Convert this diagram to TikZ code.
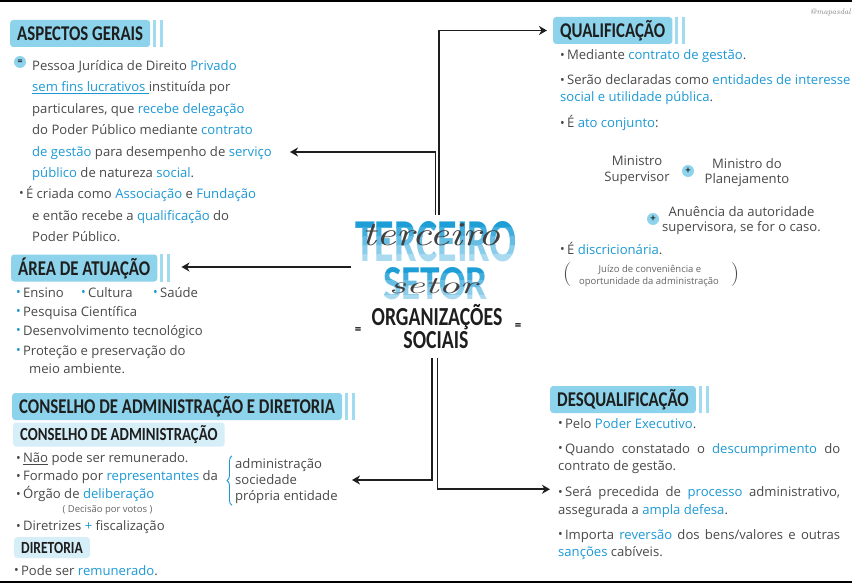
\documentclass[tikz,border=0pt]{standalone}
\usepackage{fontspec}
\newfontfamily\corpo{Open Sans}
\newfontfamily\cabfont{Carlito}
\usetikzlibrary{arrows.meta,decorations.pathreplacing}

\definecolor{tinta}{RGB}{72,72,72}
\definecolor{titulo}{RGB}{30,30,30}
\definecolor{azul}{RGB}{28,152,212}
\definecolor{caixa}{RGB}{140,211,235}
\definecolor{barra}{RGB}{160,219,240}
\definecolor{caixaclara}{RGB}{214,238,247}
\definecolor{setor}{RGB}{30,158,214}

\newcommand\dest[1]{\textcolor{azul}{#1}}
\newcommand\bul{\raisebox{.1ex}{\scalebox{.95}{\textbullet}}\,}
\newcommand\bbul{\textcolor{azul}{\bul}}
\newcommand\hd[1]{\scalebox{0.80}[1]{#1}}

\tikzset{
  txt/.style={anchor=base west,inner sep=0pt,text=tinta,
    font=\corpo\fontsize{13.1}{15}\selectfont},
  miudo/.style={txt,text=tinta!85,font=\corpo\fontsize{9.5}{11}\selectfont},
  cab/.style={anchor=west,fill=caixa,rounded corners=3pt,minimum height=27pt,
    inner xsep=7pt,inner ysep=0pt,text=titulo,
    font=\cabfont\bfseries\fontsize{21}{21}\selectfont},
  subcab/.style={cab,fill=caixaclara,minimum height=24pt,
    font=\cabfont\bfseries\fontsize{18.5}{18.5}\selectfont},
  barras/.style={draw=barra,line width=3pt},
  liga/.style={draw=titulo,line width=1.6pt,
    -{Stealth[length=8pt,width=9pt,inset=2.5pt]}},
  selo/.style={circle,fill=caixa,inner sep=0pt,minimum size=12pt,text=titulo,
    font=\cabfont\bfseries\fontsize{10}{10}\selectfont},
  letreiro/.style={inner sep=0pt,font=\cabfont\bfseries},
  cursiva/.style={inner sep=0pt,text=black!75,font=\rmfamily\itshape},
}

\begin{document}
\begin{tikzpicture}[x=1pt,y=-1pt]
  \useasboundingbox (0,0) rectangle (852,583);
  \clip (0,0) rectangle (852,583);
  \fill[black] (0,0) rectangle (852,2.5);
  \fill[black] (0,580.5) rectangle (852,583);
  \node[anchor=east,inner sep=0pt,text=gray,font=\rmfamily\itshape\fontsize{8}{8}\selectfont] (marca) at (851,12) {@mapasdal};

  % centro
  \foreach \i/\p in {0/100,1/85,2/68,3/52,4/38} {
    \begin{scope}
      \clip (340,{218+9*\i}) rectangle (530,{227+9*\i})
            (370,{265+7.4*\i}) rectangle (505,{272.4+7.4*\i});
      \node[letreiro,text=setor!\p!white] (ter\i) at (436,242) {\resizebox{162pt}{40pt}{TERCEIRO}};
      \node[letreiro,text=setor!\p!white] (set\i) at (435.5,284) {\resizebox{105pt}{32pt}{SETOR}};
    \end{scope}}
  \node[cursiva] (cur1) at (431,235) {\resizebox{138pt}{22pt}{terceiro}};
  \node[cursiva] (cur2) at (433,286) {\resizebox{88pt}{15pt}{setor}};
  \node[anchor=base,inner sep=0pt,text=titulo,font=\cabfont\bfseries\fontsize{26}{26}\selectfont] (os1) at (437,325) {\scalebox{0.76}[1]{ORGANIZAÇÕES}};
  \node[anchor=base,inner sep=0pt,text=titulo,font=\cabfont\bfseries\fontsize{26}{26}\selectfont] (os2) at (436,348) {\scalebox{0.76}[1]{SOCIAIS}};
  \node[inner sep=0pt,font=\cabfont\bfseries\fontsize{13}{13}\selectfont] (ig1) at (358,331) {=};
  \node[inner sep=0pt,font=\cabfont\bfseries\fontsize{13}{13}\selectfont] (ig2) at (518,327) {=};

  % cabecalhos
  \node[cab] (ag) at (10,33.5) {\hd{ASPECTOS GERAIS}};
  \node[cab] (qu) at (553,30.5) {\hd{QUALIFICAÇÃO}};
  \node[cab] (ar) at (11,268) {\hd{ÁREA DE ATUAÇÃO}};
  \node[cab] (co) at (12,406.5) {\hd{CONSELHO DE ADMINISTRAÇÃO E DIRETORIA}};
  \node[cab] (de) at (550,399.5) {\hd{DESQUALIFICAÇÃO}};
  \node[subcab] (ca) at (13,434.5) {\hd{CONSELHO DE ADMINISTRAÇÃO}};
  \node[subcab,minimum height=21pt,font=\cabfont\bfseries\fontsize{17}{17}\selectfont] (di) at (14,547.5) {\hd{DIRETORIA}};
  \foreach \n in {ag,qu,ar,co,de} {
    \draw[barras] ([xshift=4.5pt]\n.north east) -- ([xshift=4.5pt]\n.south east);
    \draw[barras] ([xshift=11.5pt]\n.north east) -- ([xshift=11.5pt]\n.south east);
  }

  % aspectos gerais
  \node[selo] (igual) at (20,62) {=};
  \node[txt] (ag1) at (32,70.5) {Pessoa Jurídica de Direito \dest{Privado}};
  \node[txt] (ag2) at (32,92) {\dest{\underline{sem fins lucrativos }}instituída por};
  \node[txt] (ag3) at (32,113.5) {particulares, que \dest{recebe delegação}};
  \node[txt] (ag4) at (32,135) {do Poder Público mediante \dest{contrato}};
  \node[txt] (ag5) at (32,156.5) {\dest{de gestão} para desempenho de \dest{serviço}};
  \node[txt] (ag6) at (32,177.5) {\dest{público} de natureza \dest{social}.};
  \node[txt] (ag7) at (19,198.5) {\bul É criada como \dest{Associação} e \dest{Fundação}};
  \node[txt] (ag8) at (32,220) {e então recebe a \dest{qualificação} do};
  \node[txt] (ag9) at (32,241.5) {Poder Público.};

  % area de atuacao
  \node[txt] (ar1) at (16,297) {\bbul Ensino};
  \node[txt] (ar2) at (81,297) {\bbul Cultura};
  \node[txt] (ar3) at (153,297) {\bbul Saúde};
  \node[txt] (ar4) at (16,316) {\bbul Pesquisa Científica};
  \node[txt] (ar5) at (16,335.5) {\bbul Desenvolvimento tecnológico};
  \node[txt] (ar6) at (16,355) {\bbul Proteção e preservação do};
  \node[txt] (ar7) at (29,373.5) {meio ambiente.};

  % qualificacao
  \node[txt] (qu1) at (560,60) {\bul Mediante \dest{contrato de gestão}.};
  \node[txt] (qu2) at (560,85) {\bul Serão declaradas como \dest{entidades de interesse}};
  \node[txt] (qu3) at (560,101.5) {\dest{social e utilidade pública}.};
  \node[txt] (qu4) at (560,128) {\bul É \dest{ato conjunto}:};
  \node[txt,anchor=base] (mi1) at (637,166) {Ministro};
  \node[txt,anchor=base] (mi2) at (637,182) {Supervisor};
  \node[selo] (mais1) at (688,171) {+};
  \node[txt,anchor=base] (mp1) at (747,168) {Ministro do};
  \node[txt,anchor=base] (mp2) at (747,184) {Planejamento};
  \node[selo] (mais2) at (653,219) {+};
  \node[txt,anchor=base] (an1) at (741.5,216) {Anuência da autoridade};
  \node[txt,anchor=base] (an2) at (741.5,232) {supervisora, se for o caso.};
  \node[txt] (qu5) at (560,254) {\bul É \dest{discricionária}.};
  \node[miudo,anchor=base] (ju1) at (650,272) {Juízo de conveniência e};
  \node[miudo,anchor=base] (ju2) at (649,284) {oportunidade da administração};
  \node[inner sep=0pt,text=tinta,font=\rmfamily\fontsize{24}{24}\selectfont] (pa1) at (567,275) {(};
  \node[inner sep=0pt,text=tinta,font=\rmfamily\fontsize{24}{24}\selectfont] (pa2) at (735,275) {)};

  % conselho e diretoria
  \node[txt] (cs1) at (16,462.7) {\bul \underline{Não} pode ser remunerado.};
  \node[txt] (cs2) at (16,480.7) {\bul Formado por \dest{representantes} da};
  \node[txt] (cs3) at (16,498.7) {\bul Órgão de \dest{deliberação}};
  \node[miudo,anchor=base] (cs4) at (107.5,512.7) {( Decisão por votos )};
  \node[txt] (cs5) at (16,530.7) {\bul Diretrizes \dest{+} fiscalização};
  \node[txt] (ce1) at (235,468) {administração};
  \node[txt] (ce2) at (235,484) {sociedade};
  \node[txt] (ce3) at (235,500) {própria entidade};
  \draw[azul,line width=0.9pt,decorate,decoration={brace,amplitude=5pt}]
    ([xshift=-3pt,yshift=-2pt]ce3.south west) -- ([xshift=-3pt,yshift=2pt]ce1.north west);
  \node[txt] (di1) at (14,575) {\bul Pode ser \dest{remunerado}.};

  % desqualificacao
  \node[txt] (de1) at (558,428) {\bul Pelo \dest{Poder Executivo}.};
  \node[txt] (de2) at (558,453) {\makebox[282pt][s]{\bul Quando constatado o \dest{descumprimento} do}};
  \node[txt] (de3) at (558,470.7) {contrato de gestão.};
  \node[txt] (de4) at (558,496.7) {\makebox[282pt][s]{\bul Será precedida de \dest{processo} administrativo,}};
  \node[txt] (de5) at (558,514) {assegurada a \dest{ampla defesa}.};
  \node[txt] (de6) at (558,539) {\makebox[282pt][s]{\bul Importa \dest{reversão} dos bens/valores e outras}};
  \node[txt] (de7) at (558,556.7) {\dest{sanções} cabíveis.};

  % ligacoes
  \coordinate (pontaag) at (290,152);
  \coordinate (ladoesq) at (351,267);
  \coordinate (pontaco) at (352,480);
  \draw[liga,shorten >=6pt] ([xshift=3pt,yshift=7pt]ter0.north) |- (qu.west);
  \draw[liga] ([xshift=-0.5pt,yshift=7pt]ter0.north) |- (pontaag);
  \draw[liga,shorten >=24pt] (ladoesq) -- (ladoesq -| ar.east);
  \draw[liga] ([xshift=-4pt,yshift=-10pt]os2.south) |- (pontaco);
  \draw[liga,shorten >=8pt] ([xshift=1.5pt,yshift=-10pt]os2.south) |- ([yshift=4pt]de4.west);
\end{tikzpicture}
\end{document}
